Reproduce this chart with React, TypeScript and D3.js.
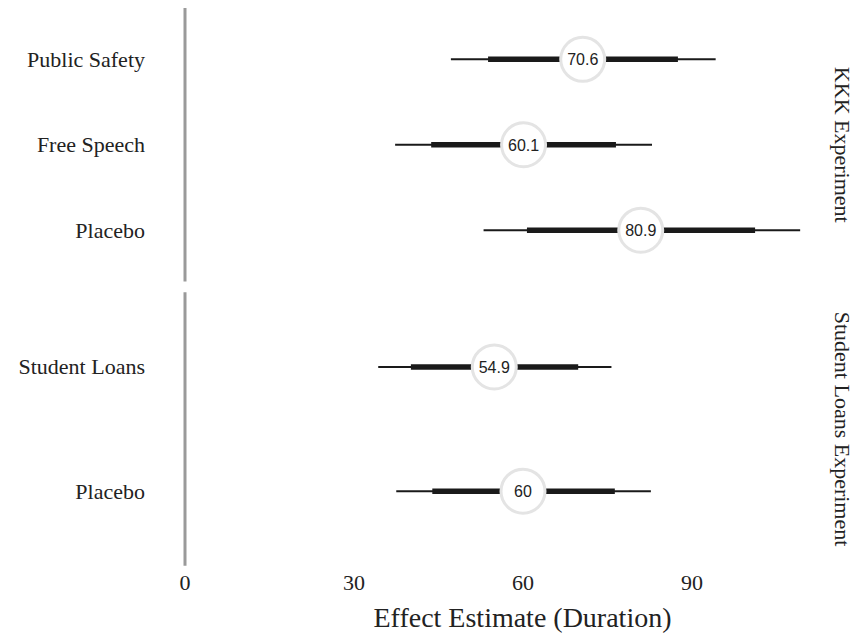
import { useEffect, useRef } from "react";
import * as d3 from "d3";

// KKK experiment
const kkkLabels = ["Public Safety", "Free Speech", "Placebo"];
const kkkEstimate = [70.6, 60.1, 80.9];
const kkkLow95 = [47.2, 37.3, 53.0];
const kkkHigh95 = [94.2, 82.9, 109.2];
const kkkLow80 = [53.8, 43.7, 60.7];
const kkkHigh80 = [87.5, 76.5, 101.2];

// Student loans experiment
const loanLabels = ["Student Loans", "Placebo"];
const loanEstimate = [54.9, 60];
const loanLow95 = [34.3, 37.5];
const loanHigh95 = [75.7, 82.7];
const loanLow80 = [40.1, 43.9];
const loanHigh80 = [69.8, 76.3];

const xTicks = [0, 30, 60, 90];
const panelNames = ["KKK Experiment", "Student Loans Experiment"];

const WIDTH = 859;
const HEIGHT = 634;

export default function App() {
    const svgRef = useRef<SVGSVGElement>(null);

    useEffect(() => {
        const svg = d3.select(svgRef.current);
        svg.selectAll("*").remove();

        const serif = "'Liberation Serif', 'Times New Roman', serif";
        const sans = "'Liberation Sans', Arial, sans-serif";

        const x = d3.scaleLinear().domain([0, 90]).range([185, 692]);

        const panels = [
            {
                name: panelNames[0],
                top: 8,
                bottom: 281.5,
                rows: kkkLabels.map((label, i) => ({
                    key: i,
                    label,
                    est: kkkEstimate[i],
                    lo95: kkkLow95[i],
                    hi95: kkkHigh95[i],
                    lo80: kkkLow80[i],
                    hi80: kkkHigh80[i],
                })),
            },
            {
                name: panelNames[1],
                top: 292.3,
                bottom: 565.8,
                rows: loanLabels.map((label, i) => ({
                    key: i,
                    label,
                    est: loanEstimate[i],
                    lo95: loanLow95[i],
                    hi95: loanHigh95[i],
                    lo80: loanLow80[i],
                    hi80: loanHigh80[i],
                })),
            },
        ];

        panels.forEach((p) => {
            const y = d3
                .scalePoint<number>()
                .domain(p.rows.map((r) => r.key))
                .range([p.top, p.bottom])
                .padding(0.6);

            const g = svg.append("g");

            // zero reference line
            g.append("line")
                .attr("x1", x(0))
                .attr("x2", x(0))
                .attr("y1", p.top)
                .attr("y2", p.bottom)
                .attr("stroke", "#9a9a9a")
                .attr("stroke-width", 3);

            // row labels
            g.selectAll(".ylab")
                .data(p.rows)
                .enter()
                .append("text")
                .attr("x", 145)
                .attr("y", (d) => y(d.key)!)
                .attr("dy", "0.34em")
                .attr("text-anchor", "end")
                .attr("font-family", serif)
                .attr("font-size", 22)
                .attr("fill", "#222")
                .text((d) => d.label);

            // 95% intervals
            g.selectAll(".ci95")
                .data(p.rows)
                .enter()
                .append("line")
                .attr("x1", (d) => x(d.lo95))
                .attr("x2", (d) => x(d.hi95))
                .attr("y1", (d) => y(d.key)!)
                .attr("y2", (d) => y(d.key)!)
                .attr("stroke", "#1a1a1a")
                .attr("stroke-width", 2);

            // 80% intervals
            g.selectAll(".ci80")
                .data(p.rows)
                .enter()
                .append("line")
                .attr("x1", (d) => x(d.lo80))
                .attr("x2", (d) => x(d.hi80))
                .attr("y1", (d) => y(d.key)!)
                .attr("y2", (d) => y(d.key)!)
                .attr("stroke", "#1a1a1a")
                .attr("stroke-width", 5.5);

            // point estimate badges
            g.selectAll(".pt")
                .data(p.rows)
                .enter()
                .append("circle")
                .attr("cx", (d) => x(d.est))
                .attr("cy", (d) => y(d.key)!)
                .attr("r", 22)
                .attr("fill", "#fff")
                .attr("stroke", "#e4e4e4")
                .attr("stroke-width", 3);

            g.selectAll(".ptlab")
                .data(p.rows)
                .enter()
                .append("text")
                .attr("x", (d) => x(d.est))
                .attr("y", (d) => y(d.key)!)
                .attr("dy", "0.36em")
                .attr("text-anchor", "middle")
                .attr("font-family", sans)
                .attr("font-size", 16)
                .attr("fill", "#222")
                .text((d) => String(d.est));

            // strip label
            const cy = (p.top + p.bottom) / 2;
            g.append("text")
                .attr("transform", `translate(843, ${cy}) rotate(90)`)
                .attr("text-anchor", "middle")
                .attr("dy", "0.35em")
                .attr("font-family", serif)
                .attr("font-size", 22)
                .attr("fill", "#222")
                .text(p.name);
        });

        // x tick labels
        svg.append("g")
            .selectAll("text")
            .data(xTicks)
            .enter()
            .append("text")
            .attr("x", (d) => x(d))
            .attr("y", 590)
            .attr("text-anchor", "middle")
            .attr("font-family", serif)
            .attr("font-size", 22)
            .attr("fill", "#222")
            .text((d) => d);

        svg.append("text")
            .attr("x", 522.5)
            .attr("y", 627)
            .attr("text-anchor", "middle")
            .attr("font-family", serif)
            .attr("font-size", 28)
            .attr("fill", "#222")
            .text("Effect Estimate (Duration)");
    }, []);

    return (
        <svg
            ref={svgRef}
            width={WIDTH}
            height={HEIGHT}
            style={{ position: "absolute", left: 0, top: 0, background: "#fff" }}
        />
    );
}
